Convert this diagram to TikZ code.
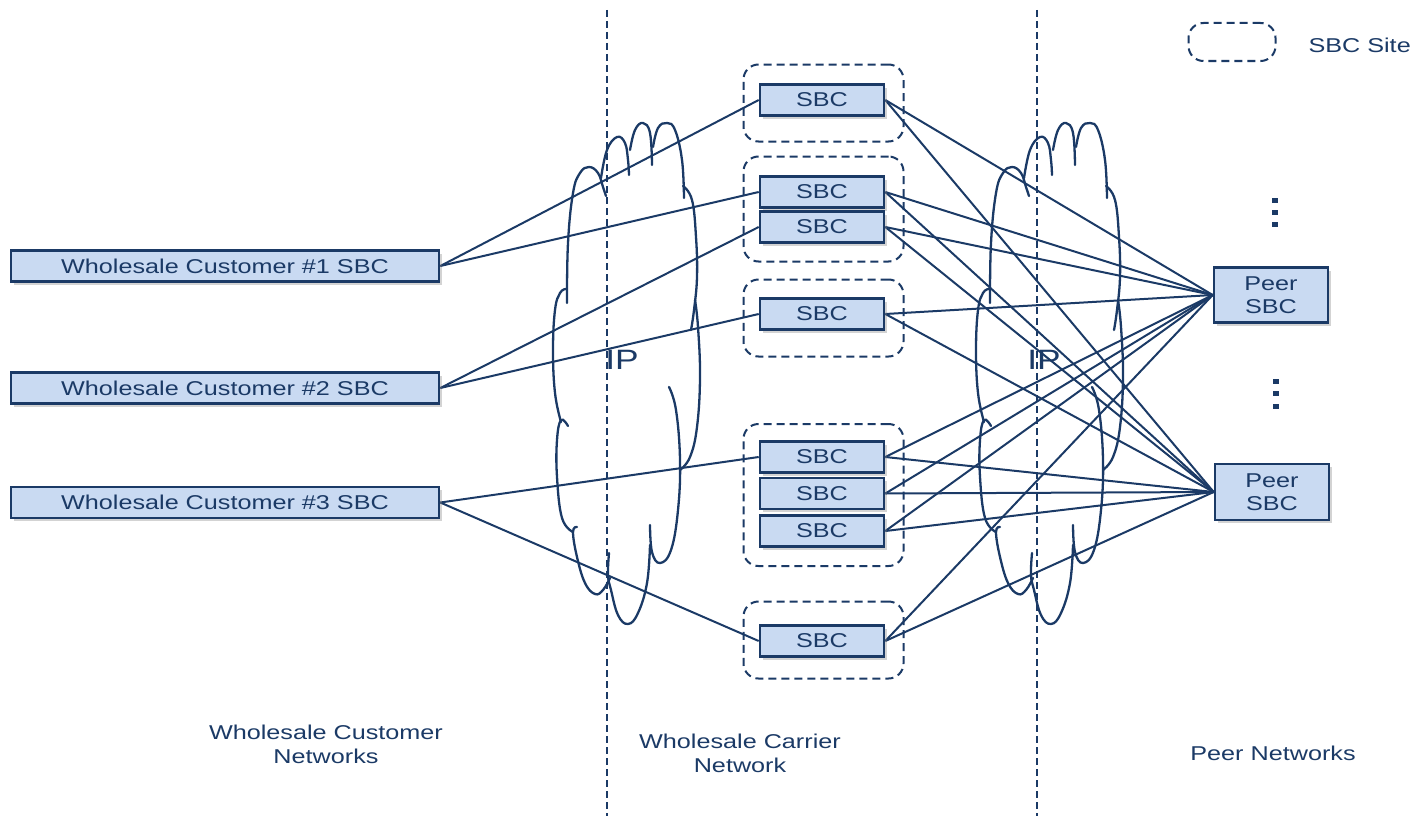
\documentclass[tikz,border=0pt]{standalone}
\usepackage{fontspec}
\setmainfont{Liberation Sans}[FakeStretch=1.26]
\usetikzlibrary{shadows}
\definecolor{navy}{HTML}{1B3A66}
\definecolor{boxfill}{HTML}{C9DAF2}
\pgfdeclarelayer{bg}
\pgfsetlayers{bg,main}
\tikzset{
  basefont/.style={font=\fontsize{20}{24}\selectfont, text=navy},
  sbcbox/.style={basefont, draw=navy, line width=2.6pt, fill=boxfill,
    drop shadow={shadow xshift=3pt, shadow yshift=-3pt, opacity=0.35},
    inner sep=0pt, align=center},
  sitebox/.style={draw=navy, line width=2pt, dash pattern=on 8pt off 5pt,
    rounded corners=15pt, inner sep=0pt},
  conn/.style={draw=navy, line width=2pt},
  divider/.style={draw=navy, line width=2.2pt, dash pattern=on 7pt off 4pt},
  cloudline/.style={draw=navy, line width=2.3pt, line cap=round},
  label/.style={basefont, align=center},
  iplabel/.style={font=\fontsize{28}{30}\selectfont, text=navy},
  pics/ipcloud/.style={code={
    \draw[cloudline] plot[smooth,tension=0.7] coordinates {(567,303) (568,243) (573,193) (580,173) (589,167) (598,173) (603,187) (606,196)};
    \draw[cloudline] plot[smooth,tension=0.7] coordinates {(601,178) (607,150) (617,137) (625,143) (628,160) (629,175)};
    \draw[cloudline] plot[smooth,tension=0.7] coordinates {(630,150) (635,130) (643,123) (650,133) (652,165)};
    \draw[cloudline] plot[smooth,tension=0.7] coordinates {(653,147) (658,128) (667,123) (675,130) (682,160) (684,198)};
    \draw[cloudline] plot[smooth,tension=0.7] coordinates {(683,186) (692,200) (696,237) (697,277) (694,310) (691,330)};
    \draw[cloudline] plot[smooth,tension=0.7] coordinates {(695,300) (698,327) (700,377) (697,427) (690,457) (680,470)};
    \draw[cloudline] plot[smooth,tension=0.7] coordinates {(669,387) (676,410) (680,460) (678,510) (671,550) (660,563) (652,552) (650,525)};
    \draw[cloudline] plot[smooth,tension=0.7] coordinates {(650,545) (647,583) (638,613) (628,624) (618,615) (611,590) (608,575) (609,553)};
    \draw[cloudline] plot[smooth,tension=0.7] coordinates {(610,578) (603,590) (595,594) (585,583) (577,557) (573,532) (577,527)};
    \draw[cloudline] plot[smooth,tension=0.7] coordinates {(573,532) (562,518) (557,477) (557,440) (561,420) (568,426)};
    \draw[cloudline] plot[smooth,tension=0.7] coordinates {(561,422) (555,393) (553,350) (555,310) (560,293) (566,289)};
  }}
}
\begin{document}
\begin{tikzpicture}[x=1pt,y=-1pt]
\useasboundingbox (0,0) rectangle (1412,816);

% customer SBCs
\node[sbcbox, minimum width=428pt, minimum height=31pt] (W1) at (225,266) {Wholesale Customer \#1 SBC};
\node[sbcbox, minimum width=428pt, minimum height=31pt] (W2) at (225,388) {Wholesale Customer \#2 SBC};
\node[sbcbox, minimum width=428pt, minimum height=31pt] (W3) at (225,502.5) {Wholesale Customer \#3 SBC};

% SBC sites
\node[sitebox, minimum width=160pt, minimum height=77pt] (site1) at (823.5,103) {};
\node[sitebox, minimum width=160pt, minimum height=105pt] (site2) at (823.5,209) {};
\node[sitebox, minimum width=160pt, minimum height=77pt] (site3) at (823.5,318) {};
\node[sitebox, minimum width=160pt, minimum height=142pt] (site4) at (823.5,495) {};
\node[sitebox, minimum width=160pt, minimum height=77pt] (site5) at (823.5,640) {};

% carrier SBCs
\node[sbcbox, minimum width=124pt, minimum height=31pt] (S1) at (822,100) {SBC};
\node[sbcbox, minimum width=124pt, minimum height=31pt] (S2) at (822,192) {SBC};
\node[sbcbox, minimum width=124pt, minimum height=31pt] (S3) at (822,227) {SBC};
\node[sbcbox, minimum width=124pt, minimum height=31pt] (S4) at (822,314) {SBC};
\node[sbcbox, minimum width=124pt, minimum height=31pt] (S5) at (822,457) {SBC};
\node[sbcbox, minimum width=124pt, minimum height=31pt] (S6) at (822,493.5) {SBC};
\node[sbcbox, minimum width=124pt, minimum height=31pt] (S7) at (822,531) {SBC};
\node[sbcbox, minimum width=124pt, minimum height=31pt] (S8) at (822,641) {SBC};

% peer SBCs
\node[sbcbox, minimum width=114pt, minimum height=55pt, font=\fontsize{20}{23}\selectfont] (P1) at (1271,295) {Peer\\SBC};
\node[sbcbox, minimum width=114pt, minimum height=56pt, font=\fontsize{20}{23}\selectfont] (P2) at (1272,492) {Peer\\SBC};

% ellipsis dots
\fill[navy] (1272,198) rectangle +(6,5);
\fill[navy] (1272,210) rectangle +(6,5);
\fill[navy] (1272,221.5) rectangle +(6,5);
\fill[navy] (1273,378.5) rectangle +(6,5);
\fill[navy] (1273,391) rectangle +(6,5);
\fill[navy] (1273,403.5) rectangle +(6,5);

% legend
\node[sitebox, minimum width=87pt, minimum height=38pt] (legend) at (1232,42) {};
\node[label, anchor=west] (legendtext) at (1305,45) {SBC Site};

% IP labels
\node[iplabel] (ip1) at (622,360) {IP};
\node[iplabel] (ip2) at (1044,360) {IP};

% bottom labels
\node[label] (lab1) at (326,744) {Wholesale Customer\\Networks};
\node[label] (lab2) at (740,753) {Wholesale Carrier\\Network};
\node[label] (lab3) at (1273,753) {Peer Networks};

\coordinate (d1t) at (607,10);
\coordinate (d1b) at (607,816);
\coordinate (d2t) at (1037,10);
\coordinate (d2b) at (1037,816);

\begin{pgfonlayer}{bg}
  \pic at (0,0) {ipcloud};
  \pic at (423,0) {ipcloud};
  \draw[divider] (d1t) -- (d1b);
  \draw[divider] (d2t) -- (d2b);
  \draw[conn] (W1.east) -- (S1.west);
  \draw[conn] (W1.east) -- (S2.west);
  \draw[conn] (W2.east) -- (S3.west);
  \draw[conn] (W2.east) -- (S4.west);
  \draw[conn] (W3.east) -- (S5.west);
  \draw[conn] (W3.east) -- (S8.west);
  \foreach \s in {S1,S2,S3,S4,S5,S6,S7,S8} {
    \draw[conn] (\s.east) -- (P1.west);
    \draw[conn] (\s.east) -- (P2.west);
  }
\end{pgfonlayer}
\end{tikzpicture}
\end{document}
